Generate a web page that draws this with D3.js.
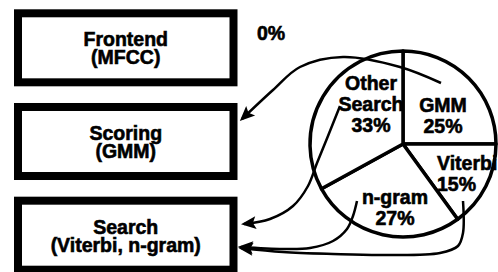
<!DOCTYPE html>
<html>
<head>
<meta charset="utf-8">
<script src="https://cdn.jsdelivr.net/npm/d3@7"></script>
<style>
  body { margin: 0; background: #fff; }
  text { font-family: "Liberation Sans", Arial, sans-serif; font-weight: bold; font-size: 19.5px;
         fill: #000; stroke: #000; stroke-width: 0.6px; }
</style>
</head>
<body>
<div id="chart"></div>
<script>
var width = 498,
  height = 272;

// pipeline stages (boxes)
var stages = [["Frontend", "(MFCC)"], ["Scoring", "(GMM)"], ["Search", "(Viterbi, n-gram)"]];
var frontendShare = 0;

// pie slices, clockwise from 12 o'clock
var sliceNames = [["GMM"], ["Viterbi"], ["n-gram"], ["Other", "Search"]];
var sliceValues = [25, 15, 27, 33];

var svg = d3.select("#chart").append("svg")
  .attr("width", width)
  .attr("height", height);

var defs = svg.append("defs");
defs.append("marker")
  .attr("id", "head")
  .attr("markerUnits", "userSpaceOnUse")
  .attr("viewBox", "-14 -8 20 16")
  .attr("markerWidth", 20)
  .attr("markerHeight", 16)
  .attr("refX", 0)
  .attr("refY", 0)
  .attr("orient", "auto")
  .append("path")
  .attr("d", "M3,0 L-12,-6.5 L-9,0 L-12,6.5 Z")
  .attr("fill", "#000");

// ---- boxes
var boxY = d3.scaleBand()
  .domain(d3.range(stages.length))
  .range([9.3, 273.7])
  .paddingInner(0.178)
  .paddingOuter(0);

var boxX0 = 14, boxX1 = 237.5, sw = 8;

var box = svg.selectAll("g.box")
  .data(stages)
  .enter()
  .append("g")
  .attr("class", "box");

box.append("rect")
  .attr("x", boxX0 + sw / 2)
  .attr("y", function (d, i) { return boxY(i) + sw / 2 })
  .attr("width", boxX1 - boxX0 - sw)
  .attr("height", boxY.bandwidth() - sw)
  .attr("fill", "#fff")
  .attr("stroke", "#000")
  .attr("stroke-width", sw);

box.each(function (d, i) {
  var cy = boxY(i) + boxY.bandwidth() / 2;
  d3.select(this).selectAll("text")
    .data(d)
    .enter()
    .append("text")
    .attr("x", (boxX0 + boxX1) / 2)
    .attr("y", function (t, j) { return cy - 1.5 + j * 18 })
    .attr("text-anchor", "middle")
    .text(function (t) { return t });
});

// frontend share, sits next to its box
svg.append("text")
  .attr("x", 257)
  .attr("y", 40)
  .text(frontendShare + "%");

// ---- pie
var cx = 403, cy = 144, r = 93;

var pie = d3.pie().sort(null).startAngle(0).endAngle(2 * Math.PI);
var arc = d3.arc().innerRadius(0).outerRadius(r);

var g = svg.append("g").attr("transform", "translate(" + cx + "," + cy + ")");

g.selectAll("path")
  .data(pie(sliceValues))
  .enter()
  .append("path")
  .attr("d", arc)
  .attr("fill", "#fff")
  .attr("stroke", "#000")
  .attr("stroke-width", 3.5)
  .attr("stroke-linejoin", "round");

// label spots, same order as slices
var labelAt = [
  { x: 443, y: 111.5, anchor: "middle" },
  { x: 437, y: 170, anchor: "start" },
  { x: 395, y: 204, anchor: "middle" },
  { x: 371, y: 89.5, anchor: "middle" }
];

sliceNames.forEach(function (name, i) {
  var lines = name.concat([sliceValues[i] + "%"]);
  svg.selectAll(null)
    .data(lines)
    .enter()
    .append("text")
    .attr("x", labelAt[i].x)
    .attr("y", function (t, j) { return labelAt[i].y + j * 21 })
    .attr("text-anchor", labelAt[i].anchor)
    .text(function (t) { return t });
});

// ---- connectors from slices to boxes
var links = [
  [[441, 83], [400, 67], [343, 57], [300, 67], [273, 90], [242, 119]],
  [[340, 106], [328, 136], [317, 163], [308, 186], [293, 206], [270, 219], [244, 224]],
  [[357, 201], [353, 216], [347, 229], [333, 241], [310, 248], [283, 249], [241, 247]],
  [[463, 201], [463, 233], [458, 246], [440, 253], [383, 255], [333, 254], [283, 252], [241, 248]]
];

var line = d3.line().curve(d3.curveCatmullRom.alpha(0.5));

svg.selectAll("path.link")
  .data(links)
  .enter()
  .append("path")
  .attr("class", "link")
  .attr("d", line)
  .attr("fill", "none")
  .attr("stroke", "#000")
  .attr("stroke-width", 2.5)
  .attr("marker-end", "url(#head)");
</script>
</body>
</html>
